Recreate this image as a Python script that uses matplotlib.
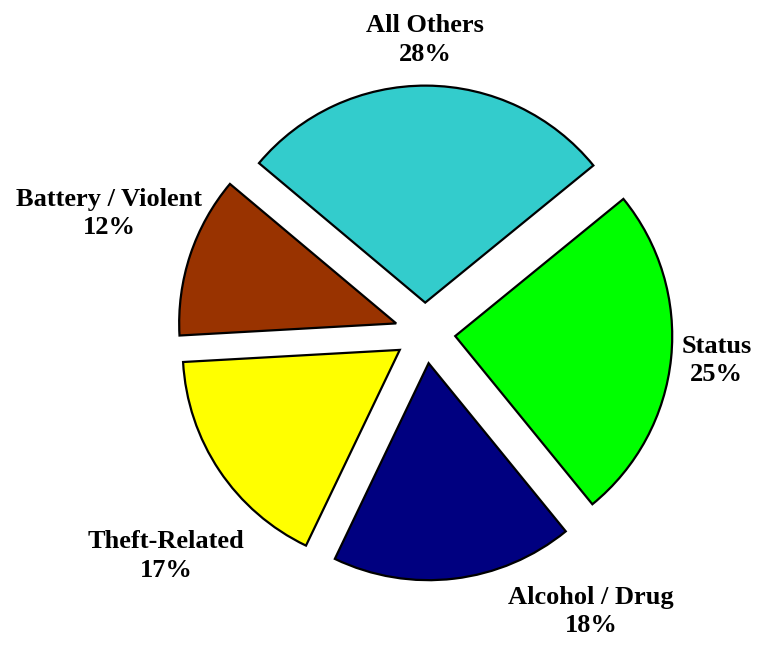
import matplotlib.pyplot as plt

categories = ["All Others", "Status", "Alcohol / Drug", "Theft-Related", "Battery / Violent"]
shares = [28, 25, 18, 17, 12]
colors = ["#33CCCC", "#00FF00", "#000080", "#FFFF00", "#993300"]

# label anchor points in pie units (radius = 1)
label_pos = [(0.0, 1.35), (1.344, -0.128), (0.766, -1.284), (-1.193, -1.028), (-1.454, 0.55)]

plt.rcParams["font.family"] = ["Liberation Serif", "DejaVu Serif"]

fig = plt.figure(figsize=(7.57, 6.45), dpi=100)
# axes sized so radius 1 = 217 px, centre at (425, 333) px
r_px = 217.0
cx, cy = 425.0, 333.0
W, H = 757.0, 645.0
half = 1.7
ax = fig.add_axes([(cx - half * r_px) / W, (H - cy - half * r_px) / H,
                   2 * half * r_px / W, 2 * half * r_px / H])
ax.set_aspect("equal")
ax.axis("off")

ax.pie(shares, colors=colors, startangle=140, counterclock=False,
       explode=[0.14] * len(shares), radius=1.0, center=(0, 0),
       wedgeprops=dict(edgecolor="black", linewidth=1.6), frame=False)
ax.set_xlim(-half, half)
ax.set_ylim(-half, half)

for name, val, (x, y) in zip(categories, shares, label_pos):
    ax.text(x, y, f"{name}\n{val}%", ha="center", va="center",
            fontsize=19, fontweight="bold", linespacing=1.3)

fig.savefig("out.png", dpi=100)
